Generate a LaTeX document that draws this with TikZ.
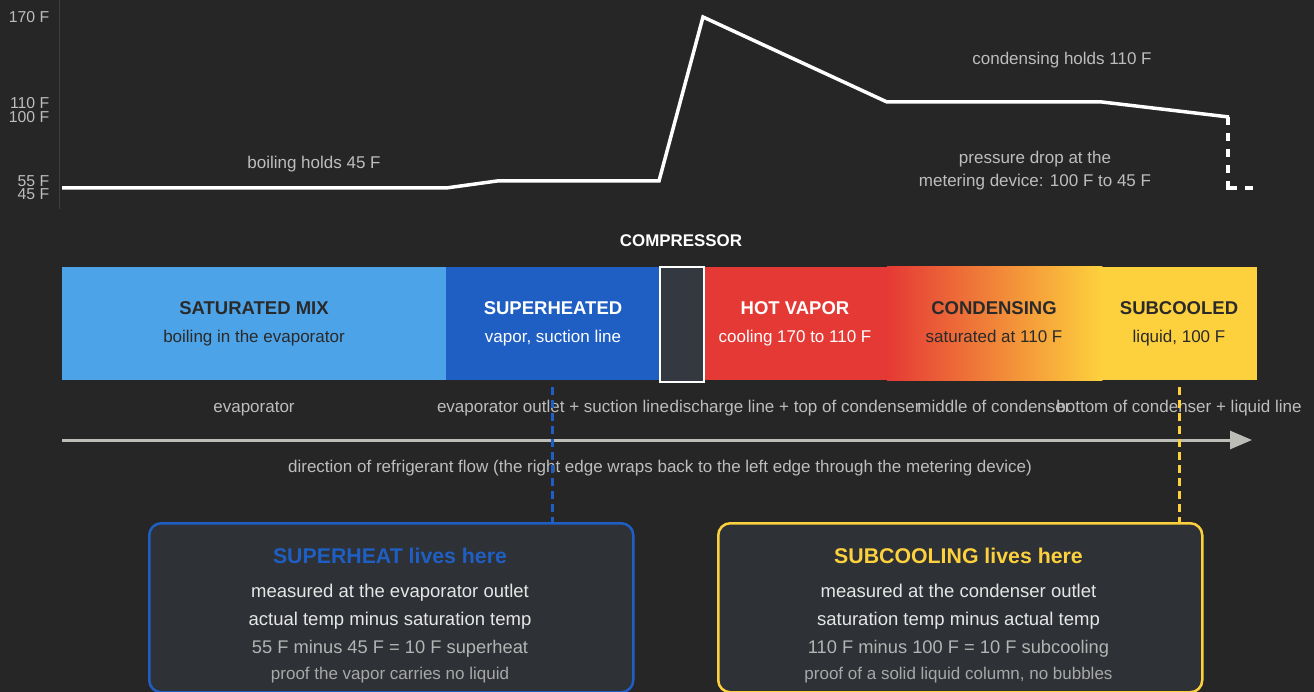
\documentclass[tikz,border=0pt]{standalone}
\usepackage{fontspec}
\setmainfont{Liberation Sans}
\usetikzlibrary{arrows.meta}

\definecolor{bg}{HTML}{262626}
\definecolor{lightblue}{HTML}{4DA3E8}
\definecolor{deepblue}{HTML}{1F5FC4}
\definecolor{hotred}{HTML}{E53935}
\definecolor{warmorange}{HTML}{F08A3A}
\definecolor{sunyellow}{HTML}{FDD13D}
\definecolor{darktext}{HTML}{2A2A2A}
\definecolor{labgray}{HTML}{BDBDBD}
\definecolor{boxfill}{HTML}{2E3135}
\definecolor{axisgray}{HTML}{3B4048}
\definecolor{arrowgray}{HTML}{BDBDB8}
\definecolor{compfill}{HTML}{343841}
\definecolor{boxline}{HTML}{E6E6E6}
\definecolor{boxmath}{HTML}{B4B4B4}
\definecolor{boxnote}{HTML}{A8A8A8}

\newcommand{\fs}[1]{\fontsize{#1}{#1}\selectfont}

\begin{document}
\begin{tikzpicture}[x=1pt,y=-1pt,
  txt/.style={inner sep=0pt, anchor=base},
  axislabel/.style={txt, anchor=base east, text=labgray, font=\fs{15.8}},
  graylabel/.style={txt, text=labgray, font=\fs{17}},
  segment/.style={inner sep=0pt, anchor=north west, minimum height=113pt},
  segtitle/.style={txt, font=\bfseries\fs{18.5}},
  segsub/.style={txt, font=\fs{17}},
  templine/.style={white, line width=3.5pt, line join=miter},
  tempdash/.style={white, line width=3.5pt},
  infobox/.style={rounded corners=12pt, fill=boxfill, line width=2.5pt, anchor=north west,
                  minimum width=484pt, minimum height=169pt, inner sep=0pt},
  boxtitle/.style={txt, font=\bfseries\fs{21.3}},
  boxtext/.style={txt, text=boxline, font=\fs{18.5}},
  boxmathtext/.style={txt, text=boxmath, font=\fs{18.3}},
  boxnotetext/.style={txt, text=boxnote, font=\fs{17}},
  probe/.style={line width=2.5pt, dash pattern=on 8pt off 5pt}
]

% canvas
\fill[bg] (0,0) rectangle (1314,692);
\useasboundingbox (0,0) rectangle (1314,692);

% temperature axis
\coordinate (axtop) at (59.5,0);
\coordinate (axbot) at (59.5,209);
\draw[axisgray, line width=1pt] (axtop) -- (axbot);
\node[axislabel] (t170) at (49.5,23) {170 F};
\node[axislabel] (t110) at (49.5,109) {110 F};
\node[axislabel] (t100) at (49.5,123) {100 F};
\node[axislabel] (t55)  at (49.5,186.5) {55 F};
\node[axislabel] (t45)  at (49.5,200) {45 F};

% refrigerant temperature along the loop
\draw[templine] (62,188) -- (446,188) -- (497,181) -- (659,181) -- (703,17)
  -- (887,102) -- (1102,102) -- (1229,117);
% metering device drop, dashed
\draw[tempdash, dash pattern=on 8pt off 8pt] (1228,117) -- (1228,188);
\draw[tempdash, dash pattern=on 10.75pt off 8pt on 8pt off 50pt] (1226.25,188) -- (1253,188);

\node[graylabel] (boil) at (314,169) {boiling holds 45 F};
\node[graylabel] (cond) at (1062,65) {condensing holds 110 F};
\node[graylabel] (drop1) at (1035,164) {pressure drop at the};
\node[graylabel] (drop2) at (1035,187) {metering device: 100 F to 45 F};

% state bar
\node[txt, white, font=\bfseries\fs{16.9}] (complabel) at (681,247) {COMPRESSOR};

\node[segment, fill=lightblue, minimum width=384pt] (satmix) at (62,267) {};
\node[segment, fill=deepblue, minimum width=213pt] (superheated) at (446,267) {};
\node[segment, fill=hotred, minimum width=184pt] (hotvapor) at (703,267) {};
\node[segment, minimum width=215pt] (condensing) at (887,267) {};
\shade[left color=hotred, middle color=warmorange, right color=sunyellow]
  (condensing.north west) rectangle (condensing.south east);
\node[segment, fill=sunyellow, minimum width=155pt] (subcooled) at (1102,267) {};
\node[segment, fill=compfill, draw=white, line width=2pt, minimum width=44pt,
      minimum height=115pt] (compressor) at (659,266) {};

\node[segtitle, text=darktext] (satmixT) at (254,314.5) {SATURATED MIX};
\node[segsub, text=darktext] (satmixS) at (254,343) {boiling in the evaporator};
\node[segtitle, text=white] (superT) at (553,314.5) {SUPERHEATED};
\node[segsub, text=white] (superS) at (553,343) {vapor, suction line};
\node[segtitle, text=white] (hotT) at (795,314.5) {HOT VAPOR};
\node[segsub, text=white] (hotS) at (795,343) {cooling 170 to 110 F};
\node[segtitle, text=darktext] (condT) at (994,314.5) {CONDENSING};
\node[segsub, text=darktext] (condS) at (994,343) {saturated at 110 F};
\node[segtitle, text=darktext] (subT) at (1179,314.5) {SUBCOOLED};
\node[segsub, text=darktext] (subS) at (1179,343) {liquid, 100 F};

% where each state sits in the system
\node[graylabel] (locA) at (254,412) {evaporator};
\node[graylabel] (locB) at (553,412) {evaporator outlet + suction line};
\node[graylabel] (locC) at (795,412) {discharge line + top of condenser};
\node[graylabel] (locD) at (994,412) {middle of condenser};
\node[graylabel] (locE) at (1179,412) {bottom of condenser + liquid line};

% flow direction
\coordinate (flowstart) at (62,440);
\coordinate (flowend) at (1252,440);
\draw[arrowgray, line width=3pt, -{Triangle[length=22pt,width=18pt]}] (flowstart) -- (flowend);
\node[graylabel] (flowtext) at (660,472) {direction of refrigerant flow (the right edge wraps back to the left edge through the metering device)};

% measurement boxes
\node[infobox, draw=deepblue] (shbox) at (148,522) {};
\node[infobox, draw=sunyellow] (scbox) at (717,522) {};

\draw[probe, deepblue] ([yshift=-7pt]superheated.south) -- (superheated.south |- shbox.north);
\draw[probe, sunyellow] ([yshift=-7pt]subcooled.south) -- (subcooled.south |- scbox.north);

\node[boxtitle, text=deepblue] (shT) at (390,563) {SUPERHEAT lives here};
\node[boxtext] (sh1) at (390,597.5) {measured at the evaporator outlet};
\node[boxtext] (sh2) at (390,625.5) {actual temp minus saturation temp};
\node[boxmathtext] (sh3) at (390,653.5) {55 F minus 45 F = 10 F superheat};
\node[boxnotetext] (sh4) at (390,679) {proof the vapor carries no liquid};

\node[boxtitle, text=sunyellow] (scT) at (958.5,563) {SUBCOOLING lives here};
\node[boxtext] (sc1) at (958.5,597.5) {measured at the condenser outlet};
\node[boxtext] (sc2) at (958.5,625.5) {saturation temp minus actual temp};
\node[boxmathtext] (sc3) at (958.5,653.5) {110 F minus 100 F = 10 F subcooling};
\node[boxnotetext] (sc4) at (958.5,679) {proof of a solid liquid column, no bubbles};

\end{tikzpicture}
\end{document}
